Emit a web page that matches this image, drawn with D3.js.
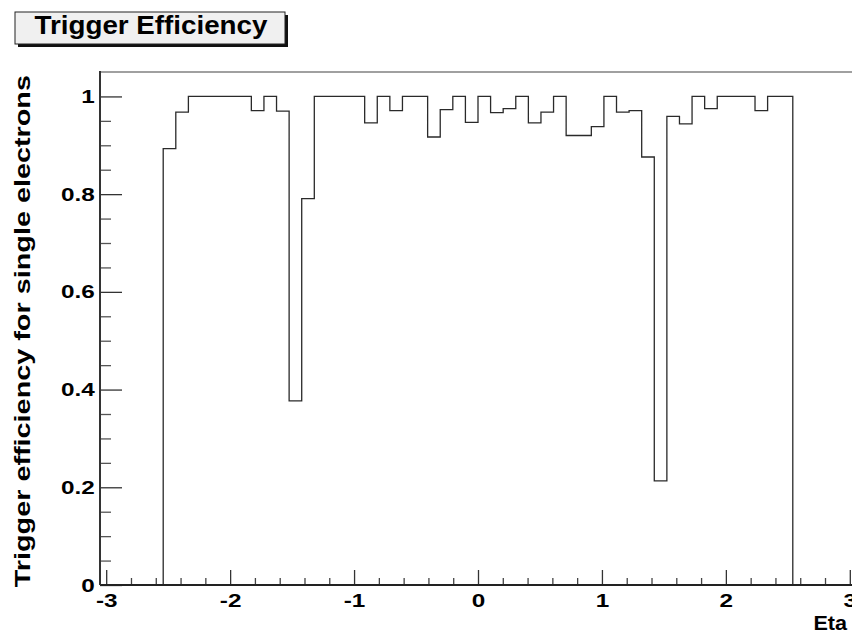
<!DOCTYPE html>
<html>
<head>
<meta charset="utf-8">
<script src="https://cdn.jsdelivr.net/npm/d3@7"></script>
<style>
  html, body { margin: 0; padding: 0; background: #ffffff; }
  svg { display: block; }
  text { font-family: "Liberation Sans", Arial, Helvetica, sans-serif; font-weight: bold; fill: #000; }
</style>
</head>
<body>
<svg id="chart" width="852" height="633"></svg>
<script>
// Single-electron trigger efficiency versus pseudorapidity, 50 bins in eta
const etaMin = -2.54;
const etaMax = 2.54;
const efficiency = [
  0.893, 0.968, 1.000, 1.000, 1.000, 1.000, 1.000, 0.971, 1.000, 0.970,
  0.377, 0.791, 1.000, 1.000, 1.000, 1.000, 0.946, 1.000, 0.971, 1.000,
  1.000, 0.917, 0.973, 1.000, 0.947, 1.000, 0.967, 0.975, 1.000, 0.946,
  0.968, 1.000, 0.920, 0.920, 0.938, 1.000, 0.968, 0.971, 0.876, 0.213,
  0.959, 0.944, 1.000, 0.975, 1.000, 1.000, 1.000, 0.971, 1.000, 1.000
];
const xMajorTicks = [-3, -2, -1, 0, 1, 2, 3];
const yMajorTicks = [0, 0.2, 0.4, 0.6, 0.8, 1];
const xTickLabels = ["-3", "-2", "-1", "0", "1", "2", "3"];
const yTickLabels = ["0", "0.2", "0.4", "0.6", "0.8", "1"];
const titleText = "Trigger Efficiency";
const xTitle = "Eta";
const yTitle = "Trigger efficiency for single electrons";

const svg = d3.select("#chart");
const frame = { left: 100, right: 856, top: 72, bottom: 585 };

const x = d3.scaleLinear().domain([-3.05, 3.05]).range([frame.left, frame.right]);
const y = d3.scaleLinear().domain([0, 1.05]).range([frame.bottom, frame.top]);

// the canvas font is drawn wide: stretch glyphs along the baseline
const labelStretch = 1.28;

// bin edges
const nBins = efficiency.length;
const binWidth = (etaMax - etaMin) / nBins;
const bins = efficiency.map((v, i) => ({ x0: etaMin + i * binWidth, x1: etaMin + (i + 1) * binWidth, v }));

// frame: top border (grey)
svg.append("line")
  .attr("x1", frame.left).attr("x2", frame.right)
  .attr("y1", frame.top).attr("y2", frame.top)
  .attr("stroke", "#a0a0a0").attr("stroke-width", 2);

// histogram outline
const pts = [[x(etaMin), y(0)]];
bins.forEach(b => { pts.push([x(b.x0), y(b.v)]); pts.push([x(b.x1), y(b.v)]); });
pts.push([x(etaMax), y(0)]);
svg.append("path")
  .attr("d", d3.line()(pts))
  .attr("fill", "none")
  .attr("stroke", "#2a2a2a")
  .attr("stroke-width", 1.3);

// x axis: minor then major ticks, pointing into the frame
const xMinor = d3.range(-3, 3.0001, 0.2).map(d => Math.round(d * 10) / 10).filter(d => !xMajorTicks.includes(d));
const gx = svg.append("g").attr("transform", `translate(0,${frame.bottom})`);
gx.call(d3.axisBottom(x).tickValues(xMinor).tickSize(-7).tickFormat(""));
gx.selectAll(".tick line").attr("stroke", "#444").attr("stroke-width", 1.3);
const gxMaj = svg.append("g").attr("transform", `translate(0,${frame.bottom})`);
gxMaj.call(d3.axisBottom(x).tickValues(xMajorTicks).tickSize(-15).tickPadding(9)
  .tickFormat((d, i) => xTickLabels[i]));
gxMaj.selectAll(".tick line").attr("stroke", "#333").attr("stroke-width", 1.3);
gxMaj.selectAll(".tick text")
  .attr("font-size", 19).attr("font-family", null).attr("fill", "#000")
  .attr("transform", `scale(${labelStretch},1)`);
svg.selectAll(".domain").remove();

// y axis
const yMinor = d3.range(0, 1.0001, 0.05).map(d => Math.round(d * 100) / 100).filter(d => !yMajorTicks.includes(d));
const gy = svg.append("g").attr("transform", `translate(${frame.left},0)`);
gy.call(d3.axisLeft(y).tickValues(yMinor).tickSize(-11).tickFormat(""));
gy.selectAll(".tick line").attr("stroke", "#555").attr("stroke-width", 1.3);
const gyMaj = svg.append("g").attr("transform", `translate(${frame.left},0)`);
gyMaj.call(d3.axisLeft(y).tickValues(yMajorTicks).tickSize(-22).tickPadding(4)
  .tickFormat((d, i) => yTickLabels[i]));
gyMaj.selectAll(".tick line").attr("stroke", "#333").attr("stroke-width", 1.3);
gyMaj.selectAll(".tick text")
  .attr("font-size", 19).attr("font-family", null).attr("fill", "#000")
  .attr("transform", `scale(${labelStretch},1)`);
svg.selectAll(".domain").remove();

// axis lines
svg.append("line")
  .attr("x1", frame.left).attr("x2", frame.right)
  .attr("y1", frame.bottom).attr("y2", frame.bottom)
  .attr("stroke", "#222").attr("stroke-width", 2);
svg.append("line")
  .attr("x1", frame.left).attr("x2", frame.left)
  .attr("y1", frame.top - 1).attr("y2", frame.bottom)
  .attr("stroke", "#333").attr("stroke-width", 2);

// axis titles
svg.append("text")
  .attr("transform", "translate(847,630) scale(1.08,1)")
  .attr("text-anchor", "end")
  .attr("font-size", 20)
  .text(xTitle);
svg.append("text")
  .attr("transform", "translate(30,75) rotate(-90) scale(1.31,1)")
  .attr("text-anchor", "end")
  .attr("font-size", 22)
  .text(yTitle);

// title box with drop shadow
const box = { x: 15, y: 12, w: 270, h: 32 };
svg.append("rect")
  .attr("x", box.x + 3).attr("y", box.y + 3)
  .attr("width", box.w).attr("height", box.h)
  .attr("fill", "#111");
svg.append("rect")
  .attr("x", box.x).attr("y", box.y)
  .attr("width", box.w).attr("height", box.h)
  .attr("fill", "#f0f0f0").attr("stroke", "#222").attr("stroke-width", 1);
svg.append("text")
  .attr("transform", `translate(${box.x + box.w / 2 + 1},${box.y + 22}) scale(1.11,1)`)
  .attr("text-anchor", "middle")
  .attr("font-size", 25)
  .text(titleText);
</script>
</body>
</html>
